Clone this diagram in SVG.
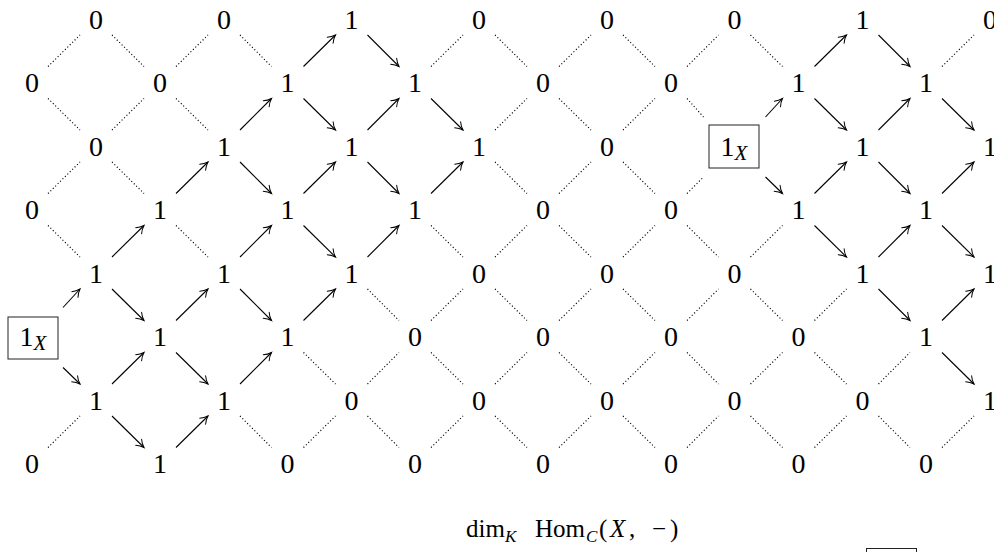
<svg xmlns="http://www.w3.org/2000/svg" width="994" height="552" viewBox="0 0 994 552">
<defs>
<style>
.n{font-family:"Liberation Serif","Times New Roman",serif;font-size:28px;text-anchor:middle;fill:#000}
.sx{font-size:21px;font-style:italic}
.lbl{font-family:"Liberation Serif","Times New Roman",serif;font-size:25px;fill:#000}
.it{font-style:italic}
.sub{font-size:17px;font-style:italic}
.box{fill:none;stroke:#222;stroke-width:1}
.dot{fill:none;stroke:#000;stroke-width:1.15;stroke-dasharray:1.1 2.3}
.arr{fill:none;stroke:#000;stroke-width:1.1;marker-end:url(#ah)}
</style>
<marker id="ah" markerUnits="userSpaceOnUse" markerWidth="14" markerHeight="14" viewBox="-10 -7 14 14" refX="0" refY="0" orient="auto" overflow="visible">
<path d="M-7.5,-4.2 C-5,-2 -2,-0.6 0,0 C-2,0.6 -5,2 -7.5,4.2" fill="none" stroke="#000" stroke-width="1" stroke-linecap="round"/>
</marker>
</defs>
<g id="connectors">
<path class="dot" d="M112,35L144,66.5"/>
<path class="dot" d="M240,35L271.5,66.5"/>
<path class="arr" d="M367.5,35L399,66.5"/>
<path class="dot" d="M495,35L527,66.5"/>
<path class="dot" d="M623,35L655,66.5"/>
<path class="dot" d="M750.5,35L782.5,66.5"/>
<path class="arr" d="M878.5,35L910,66.5"/>
<path class="dot" d="M48,66.5L80,35"/>
<path class="dot" d="M48,98.5L80,130"/>
<path class="dot" d="M176,66.5L208,35"/>
<path class="dot" d="M176,98.5L208,130"/>
<path class="arr" d="M303.5,66.5L335.5,35"/>
<path class="arr" d="M303.5,98.5L335.5,130"/>
<path class="dot" d="M431,66.5L463,35"/>
<path class="arr" d="M431,98.5L463,130"/>
<path class="dot" d="M559,66.5L591,35"/>
<path class="dot" d="M559,98.5L591,130"/>
<path class="dot" d="M687,66.5L718.5,35"/>
<path class="dot" d="M687,98.5L703.5,117"/>
<path class="arr" d="M814.5,66.5L846.5,35"/>
<path class="arr" d="M814.5,98.5L846.5,130"/>
<path class="dot" d="M942,66.5L974,35"/>
<path class="arr" d="M942,98.5L974,130"/>
<path class="dot" d="M112,130L144,98.5"/>
<path class="dot" d="M112,162L144,193.5"/>
<path class="arr" d="M240,130L271.5,98.5"/>
<path class="arr" d="M240,162L271.5,193.5"/>
<path class="arr" d="M367.5,130L399,98.5"/>
<path class="arr" d="M367.5,162L399,193.5"/>
<path class="dot" d="M495,130L527,98.5"/>
<path class="dot" d="M495,162L527,193.5"/>
<path class="dot" d="M623,130L655,98.5"/>
<path class="dot" d="M623,162L655,193.5"/>
<path class="arr" d="M765.5,117L782.5,98.5"/>
<path class="arr" d="M765.5,177L782.5,193.5"/>
<path class="arr" d="M878.5,130L910,98.5"/>
<path class="arr" d="M878.5,162L910,193.5"/>
<path class="dot" d="M48,193.5L80,162"/>
<path class="dot" d="M48,225.5L80,257"/>
<path class="arr" d="M176,193.5L208,162"/>
<path class="dot" d="M176,225.5L208,257"/>
<path class="arr" d="M303.5,193.5L335.5,162"/>
<path class="arr" d="M303.5,225.5L335.5,257"/>
<path class="arr" d="M431,193.5L463,162"/>
<path class="dot" d="M431,225.5L463,257"/>
<path class="dot" d="M559,193.5L591,162"/>
<path class="dot" d="M559,225.5L591,257"/>
<path class="dot" d="M687,193.5L703.5,177"/>
<path class="dot" d="M687,225.5L718.5,257"/>
<path class="arr" d="M814.5,193.5L846.5,162"/>
<path class="arr" d="M814.5,225.5L846.5,257"/>
<path class="arr" d="M942,193.5L974,162"/>
<path class="arr" d="M942,225.5L974,257"/>
<path class="arr" d="M112,257L144,225.5"/>
<path class="arr" d="M112,289L144,320.5"/>
<path class="arr" d="M240,257L271.5,225.5"/>
<path class="arr" d="M240,289L271.5,320.5"/>
<path class="arr" d="M367.5,257L399,225.5"/>
<path class="dot" d="M367.5,289L399,320.5"/>
<path class="dot" d="M495,257L527,225.5"/>
<path class="dot" d="M495,289L527,320.5"/>
<path class="dot" d="M623,257L655,225.5"/>
<path class="dot" d="M623,289L655,320.5"/>
<path class="dot" d="M750.5,257L782.5,225.5"/>
<path class="dot" d="M750.5,289L782.5,320.5"/>
<path class="arr" d="M878.5,257L910,225.5"/>
<path class="arr" d="M878.5,289L910,320.5"/>
<path class="arr" d="M63,307.5L80,289"/>
<path class="arr" d="M63,367.5L80,384"/>
<path class="arr" d="M176,320.5L208,289"/>
<path class="arr" d="M176,352.5L208,384"/>
<path class="arr" d="M303.5,320.5L335.5,289"/>
<path class="dot" d="M303.5,352.5L335.5,384"/>
<path class="dot" d="M431,320.5L463,289"/>
<path class="dot" d="M431,352.5L463,384"/>
<path class="dot" d="M559,320.5L591,289"/>
<path class="dot" d="M559,352.5L591,384"/>
<path class="dot" d="M687,320.5L718.5,289"/>
<path class="dot" d="M687,352.5L718.5,384"/>
<path class="dot" d="M814.5,320.5L846.5,289"/>
<path class="dot" d="M814.5,352.5L846.5,384"/>
<path class="arr" d="M942,320.5L974,289"/>
<path class="arr" d="M942,352.5L974,384"/>
<path class="arr" d="M112,384L144,352.5"/>
<path class="arr" d="M112,416L144,447.5"/>
<path class="arr" d="M240,384L271.5,352.5"/>
<path class="dot" d="M240,416L271.5,447.5"/>
<path class="dot" d="M367.5,384L399,352.5"/>
<path class="dot" d="M367.5,416L399,447.5"/>
<path class="dot" d="M495,384L527,352.5"/>
<path class="dot" d="M495,416L527,447.5"/>
<path class="dot" d="M623,384L655,352.5"/>
<path class="dot" d="M623,416L655,447.5"/>
<path class="dot" d="M750.5,384L782.5,352.5"/>
<path class="dot" d="M750.5,416L782.5,447.5"/>
<path class="dot" d="M878.5,384L910,352.5"/>
<path class="dot" d="M878.5,416L910,447.5"/>
<path class="dot" d="M48,447.5L80,416"/>
<path class="arr" d="M176,447.5L208,416"/>
<path class="dot" d="M303.5,447.5L335.5,416"/>
<path class="dot" d="M431,447.5L463,416"/>
<path class="dot" d="M559,447.5L591,416"/>
<path class="dot" d="M687,447.5L718.5,416"/>
<path class="dot" d="M814.5,447.5L846.5,416"/>
<path class="dot" d="M942,447.5L974,416"/>
</g>
<g id="nodes">
<g id="n1-0"><text class="n" x="96" y="28.5">0</text></g>
<g id="n3-0"><text class="n" x="224" y="28.5">0</text></g>
<g id="n5-0"><text class="n" x="351.5" y="28.5">1</text></g>
<g id="n7-0"><text class="n" x="479" y="28.5">0</text></g>
<g id="n9-0"><text class="n" x="607" y="28.5">0</text></g>
<g id="n11-0"><text class="n" x="734.5" y="28.5">0</text></g>
<g id="n13-0"><text class="n" x="862.5" y="28.5">1</text></g>
<g id="n15-0"><text class="n" x="990" y="28.5">0</text></g>
<g id="n0-1"><text class="n" x="32" y="92">0</text></g>
<g id="n2-1"><text class="n" x="160" y="92">0</text></g>
<g id="n4-1"><text class="n" x="287.5" y="92">1</text></g>
<g id="n6-1"><text class="n" x="415" y="92">1</text></g>
<g id="n8-1"><text class="n" x="543" y="92">0</text></g>
<g id="n10-1"><text class="n" x="671" y="92">0</text></g>
<g id="n12-1"><text class="n" x="798.5" y="92">1</text></g>
<g id="n14-1"><text class="n" x="926" y="92">1</text></g>
<g id="n1-2"><text class="n" x="96" y="155.5">0</text></g>
<g id="n3-2"><text class="n" x="224" y="155.5">1</text></g>
<g id="n5-2"><text class="n" x="351.5" y="155.5">1</text></g>
<g id="n7-2"><text class="n" x="479" y="155.5">1</text></g>
<g id="n9-2"><text class="n" x="607" y="155.5">0</text></g>
<g id="n11-2"><rect class="box" x="709" y="125" width="50" height="43"/><text class="n" x="734" y="155.5">1<tspan class="sx" dy="4">X</tspan></text></g>
<g id="n13-2"><text class="n" x="862.5" y="155.5">1</text></g>
<g id="n15-2"><text class="n" x="990" y="155.5">1</text></g>
<g id="n0-3"><text class="n" x="32" y="219">0</text></g>
<g id="n2-3"><text class="n" x="160" y="219">1</text></g>
<g id="n4-3"><text class="n" x="287.5" y="219">1</text></g>
<g id="n6-3"><text class="n" x="415" y="219">1</text></g>
<g id="n8-3"><text class="n" x="543" y="219">0</text></g>
<g id="n10-3"><text class="n" x="671" y="219">0</text></g>
<g id="n12-3"><text class="n" x="798.5" y="219">1</text></g>
<g id="n14-3"><text class="n" x="926" y="219">1</text></g>
<g id="n1-4"><text class="n" x="96" y="282.5">1</text></g>
<g id="n3-4"><text class="n" x="224" y="282.5">1</text></g>
<g id="n5-4"><text class="n" x="351.5" y="282.5">1</text></g>
<g id="n7-4"><text class="n" x="479" y="282.5">0</text></g>
<g id="n9-4"><text class="n" x="607" y="282.5">0</text></g>
<g id="n11-4"><text class="n" x="734.5" y="282.5">0</text></g>
<g id="n13-4"><text class="n" x="862.5" y="282.5">1</text></g>
<g id="n15-4"><text class="n" x="990" y="282.5">1</text></g>
<g id="n0-5"><rect class="box" x="8" y="317" width="50" height="42"/><text class="n" x="33" y="346">1<tspan class="sx" dy="4">X</tspan></text></g>
<g id="n2-5"><text class="n" x="160" y="346">1</text></g>
<g id="n4-5"><text class="n" x="287.5" y="346">1</text></g>
<g id="n6-5"><text class="n" x="415" y="346">0</text></g>
<g id="n8-5"><text class="n" x="543" y="346">0</text></g>
<g id="n10-5"><text class="n" x="671" y="346">0</text></g>
<g id="n12-5"><text class="n" x="798.5" y="346">0</text></g>
<g id="n14-5"><text class="n" x="926" y="346">1</text></g>
<g id="n1-6"><text class="n" x="96" y="409.5">1</text></g>
<g id="n3-6"><text class="n" x="224" y="409.5">1</text></g>
<g id="n5-6"><text class="n" x="351.5" y="409.5">0</text></g>
<g id="n7-6"><text class="n" x="479" y="409.5">0</text></g>
<g id="n9-6"><text class="n" x="607" y="409.5">0</text></g>
<g id="n11-6"><text class="n" x="734.5" y="409.5">0</text></g>
<g id="n13-6"><text class="n" x="862.5" y="409.5">0</text></g>
<g id="n15-6"><text class="n" x="990" y="409.5">1</text></g>
<g id="n0-7"><text class="n" x="32" y="473">0</text></g>
<g id="n2-7"><text class="n" x="160" y="473">1</text></g>
<g id="n4-7"><text class="n" x="287.5" y="473">0</text></g>
<g id="n6-7"><text class="n" x="415" y="473">0</text></g>
<g id="n8-7"><text class="n" x="543" y="473">0</text></g>
<g id="n10-7"><text class="n" x="671" y="473">0</text></g>
<g id="n12-7"><text class="n" x="798.5" y="473">0</text></g>
<g id="n14-7"><text class="n" x="926" y="473">0</text></g>
</g>
<g id="caption">
<text class="lbl" y="537"><tspan x="466">dim</tspan><tspan class="sub" x="505" y="542">K</tspan><tspan x="535" y="537">Hom</tspan><tspan class="sub" x="586" y="542">C</tspan><tspan x="599" y="537">(</tspan><tspan class="it" x="610">X</tspan><tspan x="629">,</tspan><tspan x="652">−</tspan><tspan x="670">)</tspan></text>
</g>
<g id="next-box"><rect class="box" x="866.5" y="548.5" width="50" height="42"/></g>
</svg>
